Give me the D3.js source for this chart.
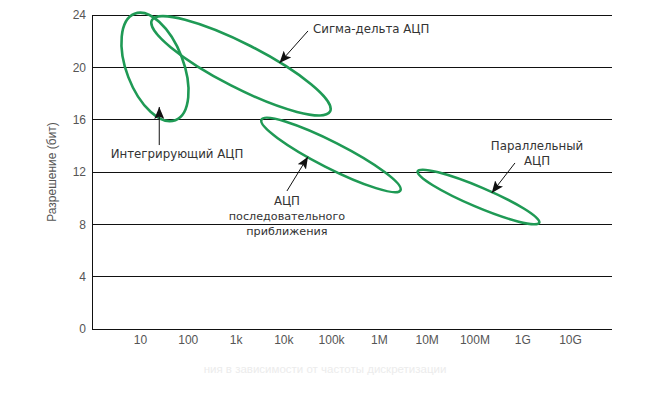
<!DOCTYPE html>
<html><head><meta charset="utf-8">
<script src="https://cdn.jsdelivr.net/npm/d3@7"></script>
<style>
body{margin:0;background:#fff;}
</style></head>
<body><svg id="c" width="657" height="393" font-family="Liberation Sans, Arial, sans-serif"></svg>
<script>
// ---- data ----
const freqTicks = [1e1,1e2,1e3,1e4,1e5,1e6,1e7,1e8,1e9,1e10];
const freqLabels = ["10","100","1k","10k","100k","1M","10M","100M","1G","10G"];
const bitTicks = [0,4,8,12,16,20,24];
// ADC regions: major-axis endpoints (freq, bits) and half-width in bits
const regionNames = ["Интегрирующий","Сигма-дельта","Последовательного приближения","Параллельный"];
const regionStart = [[7.7,24.1],[17.7,23.6],[3490,16.0],[6.5e6,12.06]];
const regionEnd   = [[55,15.96],[95300,16.63],[2.83e6,10.6],[2.27e9,8.12]];
const regionSpread = [2.18,1.68,0.99,0.76];
// annotations: label lines, label anchor (freq,bits), arrow tail -> tip (freq,bits)
const noteLabels = [["Интегрирующий АЦП"],["Сигма-дельта АЦП"],["АЦП","последовательного","приближения"],["Параллельный","АЦП"]];
const noteAnchor = [[59.5,13.07],[41800,22.62],[11900,9.48],[2.04e9,13.68]];
const noteAlign = ["middle","start","middle","middle"];
const arrowTail = [[25.3,14.06],[32800,22.78],[11900,10.55],[7.05e8,12.69]];
const arrowTip  = [[25.3,16.97],[8300,20.33],[32800,13.17],[2.3e8,10.4]];
const yTitle = "Разрешение (бит)";
const footnote = "ния в зависимости от частоты дискретизации";

// ---- chart ----
const svg = d3.select("#c");
const x = d3.scaleLog().domain([1e1,1e10]).range([140,570]);
const y = d3.scaleLinear().domain([0,24]).range([329,15]);
const gridLeft = 92, gridRight = 612;

// gridlines
svg.append("g").selectAll("line").data(bitTicks).join("line")
  .attr("x1",gridLeft).attr("x2",gridRight)
  .attr("y1",d=>y(d)).attr("y2",d=>y(d))
  .attr("stroke","#111").attr("stroke-width",1).attr("shape-rendering","crispEdges");

// y axis
const yAxis = d3.axisLeft(y).tickValues(bitTicks).tickSize(0).tickPadding(6);
const gy = svg.append("g").attr("transform",`translate(${gridLeft},0)`).call(yAxis);
gy.attr("font-family",null).attr("font-size",null);
gy.select(".domain").attr("stroke","#111").attr("shape-rendering","crispEdges");
gy.selectAll("text").style("font-size","12px").attr("fill","#555");

// x axis labels
const xAxis = d3.axisBottom(x).tickValues(freqTicks).tickFormat((d,i)=>freqLabels[i]).tickSize(0).tickPadding(0);
const gx = svg.append("g").attr("transform",`translate(0,335)`).call(xAxis);
gx.attr("font-family",null).attr("font-size",null);
gx.select(".domain").remove();
gx.selectAll("text").style("font-size","12px").attr("fill","#555").attr("dy","0.71em");

// y title
svg.append("text").attr("transform",`translate(56,${(y(0)+y(24))/2}) rotate(-90)`)
  .attr("text-anchor","middle").style("font-size","12px").attr("fill","#555").text(yTitle);

// ellipses
const pxPerBit = y(0)-y(1);
const ell = regionNames.map((n,i)=>{
  const x1=x(regionStart[i][0]), y1=y(regionStart[i][1]);
  const x2=x(regionEnd[i][0]), y2=y(regionEnd[i][1]);
  return {cx:(x1+x2)/2, cy:(y1+y2)/2, rx:Math.hypot(x2-x1,y2-y1)/2,
          ry:regionSpread[i]*pxPerBit, ang:Math.atan2(y2-y1,x2-x1)*180/Math.PI};
});
svg.append("g").selectAll("ellipse").data(ell).join("ellipse")
  .attr("transform",d=>`translate(${d.cx},${d.cy}) rotate(${d.ang})`)
  .attr("rx",d=>d.rx).attr("ry",d=>d.ry)
  .attr("fill","none").attr("stroke","#1f9a55").attr("stroke-width",2.6);

// arrowheads
svg.append("defs").append("marker").attr("id","ah")
  .attr("viewBox","0 0 12 10").attr("refX",12).attr("refY",5)
  .attr("markerWidth",12).attr("markerHeight",10).attr("markerUnits","userSpaceOnUse")
  .attr("orient","auto")
  .append("path").attr("d","M0,0 L12,5 L0,10 L2.5,5 Z").attr("fill","#111");

svg.append("g").selectAll("line").data(arrowTail).join("line")
  .attr("x1",d=>x(d[0])).attr("y1",d=>y(d[1]))
  .attr("x2",(d,i)=>x(arrowTip[i][0])).attr("y2",(d,i)=>y(arrowTip[i][1]))
  .attr("stroke","#111").attr("stroke-width",1).attr("marker-end","url(#ah)");

// labels
const lg = svg.append("g");
noteLabels.forEach((lines,i)=>{
  const t = lg.append("text").attr("x",x(noteAnchor[i][0])).attr("y",y(noteAnchor[i][1]))
    .attr("text-anchor",noteAlign[i]).attr("fill","#333")
    .style("font-family","'DejaVu Sans', sans-serif");
  lines.forEach((s,j)=>{
    t.append("tspan").attr("x",x(noteAnchor[i][0])).attr("dy",j===0?0:15.2)
      .style("font-size",((lines.length===3 && j>0)?11.2:11.8)+"px").text(s);
  });
});

// faint footnote
svg.append("text").attr("x",325).attr("y",373).attr("text-anchor","middle")
  .style("font-size","11.5px").attr("fill","#ececec").text(footnote);
</script></body></html>
